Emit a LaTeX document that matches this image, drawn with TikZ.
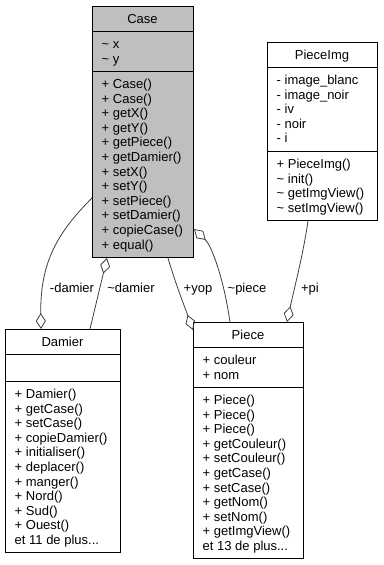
\documentclass[tikz,border=0pt]{standalone}
\usepackage{fontspec}
\setmainfont{Liberation Sans}
\usetikzlibrary{arrows.meta,calc}

\definecolor{classfill}{RGB}{191,191,191}
\definecolor{edgegray}{RGB}{64,64,64}
\newcommand\moredots{...}

\tikzset{
  classbox/.style={draw=black, line width=1pt, inner sep=0pt, anchor=north west, fill=white},
  umlfont/.style={font=\fontsize{13}{14.6}\selectfont},
  member/.style={umlfont, anchor=west, inner sep=0pt, text height=9.3pt, text depth=0pt},
  classname/.style={umlfont, anchor=center, inner sep=0pt, text height=9.3pt, text depth=0pt},
  rolelabel/.style={umlfont, anchor=center, inner sep=0pt, text height=9.3pt, text depth=0pt},
  relation/.style={draw=edgegray, line width=0.8pt, {Diamond[open,length=16pt,width=10pt]}-},
  separator/.style={draw=black, line width=1pt}
}

\begin{document}
\begin{tikzpicture}[x=1pt, y=-1pt]
  \useasboundingbox[fill=white] (0,0) rectangle (383,565);

  % ---- class boxes ----
  \node[classbox, fill=classfill, minimum width=101pt, minimum height=251pt] (case) at (92,6) {};
  \node[classbox, minimum width=115pt, minimum height=223pt] (damier) at (5,329) {};
  \node[classbox, minimum width=110pt, minimum height=236pt] (piece) at (193,322) {};
  \node[classbox, minimum width=110pt, minimum height=178pt] (pieceimg) at (267,42) {};

  % ---- compartment separators ----
  \draw[separator] ([yshift=-25pt]case.north west) -- ([yshift=-25pt]case.north east);
  \draw[separator] ([yshift=-65pt]case.north west) -- ([yshift=-65pt]case.north east);
  \draw[separator] ([yshift=-25pt]damier.north west) -- ([yshift=-25pt]damier.north east);
  \draw[separator] ([yshift=-52pt]damier.north west) -- ([yshift=-52pt]damier.north east);
  \draw[separator] ([yshift=-25pt]piece.north west) -- ([yshift=-25pt]piece.north east);
  \draw[separator] ([yshift=-65pt]piece.north west) -- ([yshift=-65pt]piece.north east);
  \draw[separator] ([yshift=-25pt]pieceimg.north west) -- ([yshift=-25pt]pieceimg.north east);
  \draw[separator] ([yshift=-109pt]pieceimg.north west) -- ([yshift=-109pt]pieceimg.north east);

  % ---- class names ----
  \node[classname] (casename) at (142.5,18.5) {Case};
  \node[classname] (damiername) at (62.5,341.5) {Damier};
  \node[classname] (piecename) at (248,334.5) {Piece};
  \node[classname] (pieceimgname) at (322,54.5) {PieceImg};

  % ---- Case members ----
  \foreach \t [count=\i] in {{\textasciitilde{} x},{\textasciitilde{} y}}
    \node[member] (casea\i) at (101.5,{43.8+14.6*(\i-1)}) {\t};
  \foreach \t [count=\i] in {{+ Case()},{+ Case()},{+ getX()},{+ getY()},{+ getPiece()},
      {+ getDamier()},{+ setX()},{+ setY()},{+ setPiece()},{+ setDamier()},
      {+ copieCase()},{+ equal()}}
    \node[member] (casem\i) at (101.5,{83.8+14.6*(\i-1)}) {\t};

  % ---- Damier members ----
  \foreach \t [count=\i] in {{+ Damier()},{+ getCase()},{+ setCase()},{+ copieDamier()},
      {+ initialiser()},{+ deplacer()},{+ manger()},{+ Nord()},{+ Sud()},{+ Ouest()},
      {et 11 de plus\moredots}}
    \node[member] (damierm\i) at (14.5,{393.8+14.6*(\i-1)}) {\t};

  % ---- Piece members ----
  \foreach \t [count=\i] in {{+ couleur},{+ nom}}
    \node[member] (piecea\i) at (202.5,{359.8+14.6*(\i-1)}) {\t};
  \foreach \t [count=\i] in {{+ Piece()},{+ Piece()},{+ Piece()},{+ getCouleur()},
      {+ setCouleur()},{+ getCase()},{+ setCase()},{+ getNom()},{+ setNom()},
      {+ getImgView()},{et 13 de plus\moredots}}
    \node[member] (piecem\i) at (202.5,{399.8+14.6*(\i-1)}) {\t};

  % ---- PieceImg members ----
  \foreach \t [count=\i] in {{- image\_blanc},{- image\_noir},{- iv},{- noir},{- i}}
    \node[member] (pieceimga\i) at (276.5,{79.8+14.6*(\i-1)}) {\t};
  \foreach \t [count=\i] in {{+ PieceImg()},{\textasciitilde{} init()},
      {\textasciitilde{} getImgView()},{\textasciitilde{} setImgView()}}
    \node[member] (pieceimgm\i) at (276.5,{163.8+14.6*(\i-1)}) {\t};

  % ---- aggregations ----
  % Damier <>-- Case  (-damier)
  \draw[relation] ($(damier.north west)+(36,0)$)
      .. controls (40,262) and (58,232) .. ($(case.south west)+(0,-60)$);
  % Case <>-- Damier  (~damier)
  \draw[relation] ($(case.south west)+(15,0)$) -- ($(damier.north west)+(85,0)$);
  % Piece <>-- Case  (+yop)
  \draw[relation] ($(piece.north west)+(0,8)$)
      .. controls (184,305) and (176,285) .. ($(case.south west)+(76,0)$);
  % Case <>-- Piece  (~piece)
  \draw[relation] ($(case.south east)+(0,-29)$)
      .. controls (212,246) and (224,280) .. ($(piece.north west)+(37,0)$);
  % Piece <>-- PieceImg  (+pi)
  \draw[relation] ($(piece.north west)+(94,0)$)
      .. controls (295,285) and (303,255) .. ($(pieceimg.south west)+(41,0)$);

  % ---- role labels ----
  \node[rolelabel] (rdamier1) at (72,288) {-damier};
  \node[rolelabel] (rdamier2) at (131,288) {\textasciitilde damier};
  \node[rolelabel] (ryop) at (198,288) {+yop};
  \node[rolelabel] (rpiece) at (247,288) {\textasciitilde piece};
  \node[rolelabel] (rpi) at (310,288) {+pi};
\end{tikzpicture}
\end{document}
